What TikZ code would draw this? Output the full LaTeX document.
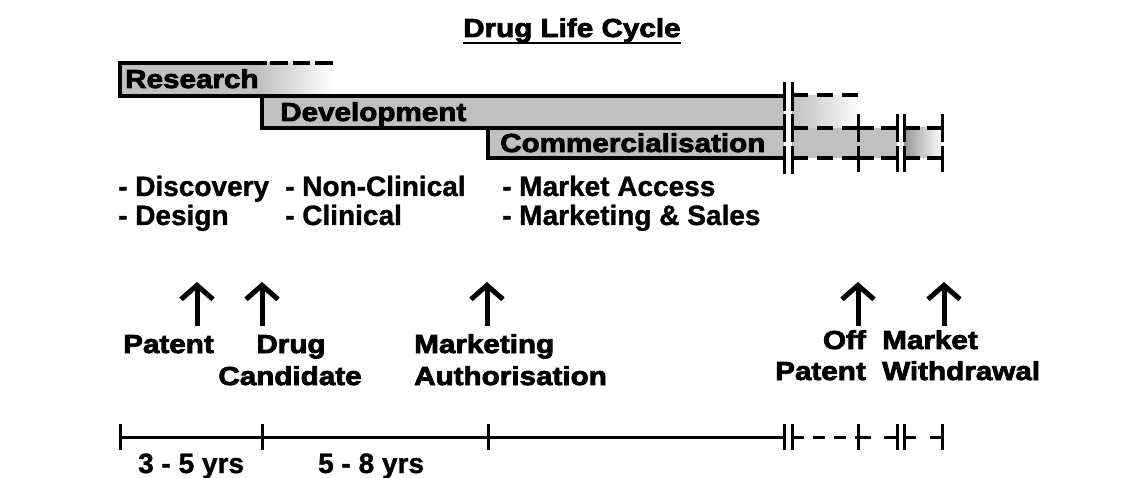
\documentclass[tikz,border=0pt]{standalone}
\usepackage{fontspec}
\setmainfont{Liberation Sans}
\newfontfamily\heavyfont{Liberation Sans}[FakeStretch=1.14,FakeBold=3]
\newfontfamily\bulfont{Liberation Sans}[FakeBold=1.2]
\usetikzlibrary{arrows.meta}
\definecolor{boxgray}{RGB}{192,192,192}
\definecolor{fadegray}{RGB}{150,150,150}
\begin{document}
\begin{tikzpicture}[x=1pt,y=-1pt,
  heavy/.style={font=\heavyfont\bfseries\fontsize{26}{30}\selectfont, inner sep=0pt},
  bul/.style={font=\bulfont\bfseries\fontsize{28}{32}\selectfont, inner sep=0pt, anchor=base west},
  boxline/.style={line width=3.5pt},
  dashline/.style={line width=3.5pt, dash pattern=on 16pt off 8pt},
  brk/.style={line width=3pt},
  tl/.style={line width=3pt},
  evarrow/.style={line width=5pt, -{Straight Barb[length=14pt,width=32pt]}}]
\useasboundingbox (0,0) rectangle (1138,478);

% title
\node[heavy, anchor=base west] (title) at (463,37) {Drug Life Cycle};
\draw[line width=2.5pt] (title.base west) ++(0,6) -- ++(218,0);

% fills
\fill[boxgray] (120,63) rectangle (258,96);
\shade[left color=boxgray, right color=white] (258,63) rectangle (334,96);
\fill[boxgray] (262,96) rectangle (784,128);
\fill[boxgray] (488,128) rectangle (784,158);
\shade[left color=boxgray, right color=white] (792,96) rectangle (862,128);
\fill[boxgray] (792,128) rectangle (897,158);
\shade[left color=fadegray, right color=white] (904,128) rectangle (942,158);

% outlines
\coordinate (rA) at (120,63);
\coordinate (rB) at (267,63);
\coordinate (rC) at (120,96);
\coordinate (dA) at (262,96);
\coordinate (dB) at (784,96);
\coordinate (dC) at (262,128);
\coordinate (cA) at (488,128);
\coordinate (cB) at (784,128);
\coordinate (cC) at (488,158);
\coordinate (cD) at (784,158);
\draw[boxline] (rB) -- (rA) -- (rC) -- (dB);
\draw[boxline] (dA) -- (dC) -- (cB);
\draw[boxline] (cA) -- (cC) -- (cD);
\draw[line width=3.5pt, dash pattern=on 17.5pt off 5pt] (270,63) -- (337,63);

% continuations after the break
\draw[dashline, dash pattern=on 16pt off 9pt] (792,95) -- (858,95);
\foreach \y in {128,158}{
  \draw[dashline, dash pattern=on 16pt off 9pt] (792,\y) -- (858,\y);
  \draw[dashline, dash pattern=on 16pt off 7pt] (858,\y) -- (897,\y);
  \draw[dashline, dash pattern=on 15.5pt off 7pt] (904,\y) -- (942,\y);
}
% break marks
\foreach \x in {784,792}{
  \draw[brk] (\x,82) -- (\x,111);
  \draw[brk] (\x,114) -- (\x,142);
  \draw[brk] (\x,146) -- (\x,174);
}
\foreach \x in {858,897,904,942}{
  \draw[brk] (\x,114) -- (\x,142);
  \draw[brk] (\x,146) -- (\x,172);
}

% bar labels
\node[heavy, anchor=base west] (research) at (125,88) {Research};
\node[heavy, anchor=base west] (development) at (280,121) {Development};
\node[heavy, anchor=base west] (commerc) at (500,152) {Commercialisation};

% activities
\node[bul] (b1) at (118,196) {- Discovery};
\node[bul] (b2) at (118,225) {- Design};
\node[bul] (b3) at (285,196) {- Non-Clinical};
\node[bul] (b4) at (285,225) {- Clinical};
\node[bul] (b5) at (502,196) {- Market Access};
\node[bul] (b6) at (502,225) {- Marketing \& Sales};

% milestones
\node[heavy, anchor=base west] (patent) at (123,353) {Patent};
\node[heavy, anchor=base] (drug) at (291,353) {Drug};
\node[heavy, anchor=base] (cand) at (290,385) {Candidate};
\node[heavy, anchor=base west] (mkt) at (414,353) {Marketing};
\node[heavy, anchor=base west] (auth) at (414,385) {Authorisation};
\node[heavy, anchor=base east] (off) at (866,349) {Off};
\node[heavy, anchor=base east] (offpat) at (866,380) {Patent};
\node[heavy, anchor=base west] (mw) at (882,349) {Market};
\node[heavy, anchor=base west] (wd) at (882,380) {Withdrawal};

% arrows
\foreach \n/\x in {p/197,d/262,m/487,o/858,w/944}{
  \coordinate (\n0) at (\x,326);
  \coordinate (\n1) at (\x,282);
  \draw[evarrow] (\n0) -- (\n1);
}

% timeline
\coordinate (t0) at (120,437);
\coordinate (t1) at (262,437);
\coordinate (t2) at (488,437);
\coordinate (t3) at (784,437);
\coordinate (t4) at (792,437);
\coordinate (t5) at (858,437);
\coordinate (t6) at (897,437);
\coordinate (t7) at (904,437);
\coordinate (t8) at (942,437);
\draw[tl] (t0) -- (t3);
\draw[tl, dash pattern=on 12pt off 9pt] (t4) -- (t5);
\draw[tl, dash pattern=on 13pt off 13pt] (t5) -- (t6);
\draw[tl, dash pattern=on 12pt off 14pt] (t7) -- (t8);
\foreach \c in {t0,t1,t2,t3,t4,t5,t6,t7,t8}{
  \draw[brk] (\c) ++(0,-13) -- ++(0,26);
}
\node[bul] (y1) at (138,473) {3 - 5 yrs};
\node[bul] (y2) at (318,473) {5 - 8 yrs};
\end{tikzpicture}
\end{document}
